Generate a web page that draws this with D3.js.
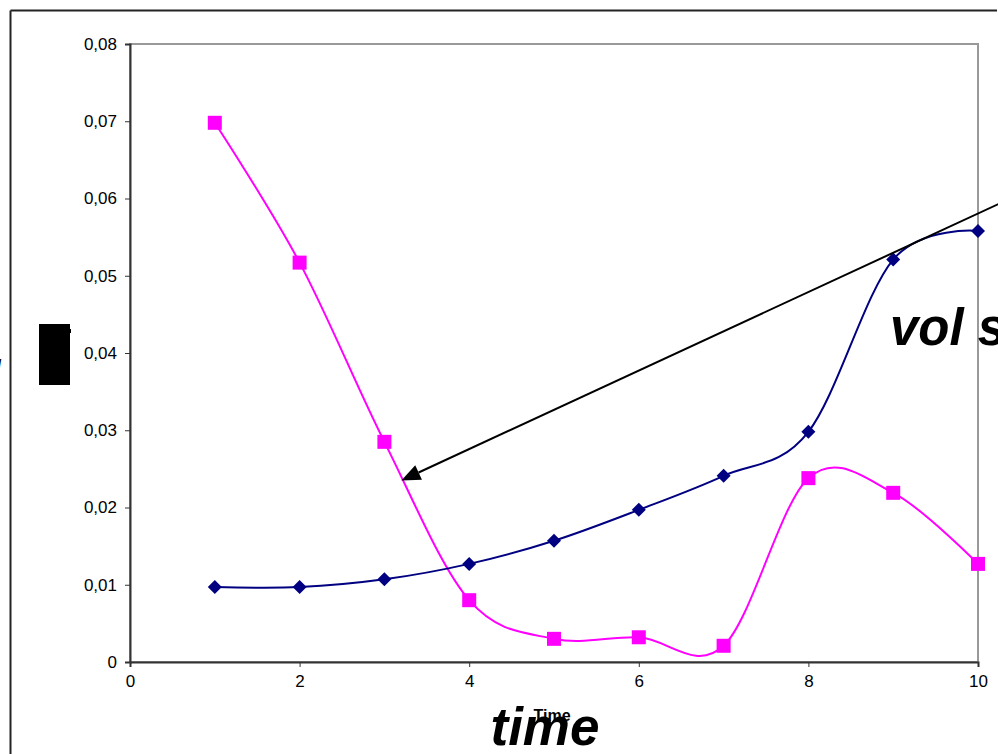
<!DOCTYPE html>
<html>
<head>
<meta charset="utf-8">
<script src="https://cdn.jsdelivr.net/npm/d3@7"></script>
<style>
  html, body { margin: 0; padding: 0; background: #fff; overflow: hidden; }
  svg { display: block; }
  .tick text { font-family: "Liberation Sans", Arial, sans-serif; font-size: 17px; fill: #000; }
</style>
</head>
<body>
<svg id="chart" width="998" height="754"></svg>
<script>
const xs = [1, 2, 3, 4, 5, 6, 7, 8, 9, 10];
const blueSeries = [0.0097, 0.0097, 0.0107, 0.0127, 0.0157, 0.0197, 0.0241, 0.0298, 0.0521, 0.0558];
const pinkSeries = [0.0698, 0.0517, 0.0285, 0.0080, 0.0030, 0.0032, 0.0021, 0.0238, 0.0219, 0.0127];
const xTicks = [0, 2, 4, 6, 8, 10];
const yTicks = [0, 0.01, 0.02, 0.03, 0.04, 0.05, 0.06, 0.07, 0.08];
const arrowFrom = [10.5, 0.0606];
const arrowTo = [3.2, 0.0235];

const svg = d3.select("#chart");
const m = { left: 130, top: 44, right: 978, bottom: 662 };
const x = d3.scaleLinear().domain([0, 10]).range([m.left, m.right]);
const y = d3.scaleLinear().domain([0, 0.08]).range([m.bottom, m.top]);
const fmt = v => d3.format(".2f")(v).replace(".", ",");
const FONT = "Liberation Sans, Arial, sans-serif";

// outer frame
svg.append("line").attr("x1", 10.5).attr("y1", 10.5).attr("x2", 997).attr("y2", 10.5)
  .attr("stroke", "#222").attr("stroke-width", 2);
svg.append("line").attr("x1", 10.5).attr("y1", 10.5).attr("x2", 10.5).attr("y2", 754)
  .attr("stroke", "#222").attr("stroke-width", 2);

// plot area border (top/right gray)
svg.append("rect").attr("x", m.left).attr("y", m.top)
  .attr("width", m.right - m.left).attr("height", m.bottom - m.top)
  .attr("fill", "none").attr("stroke", "#999").attr("stroke-width", 2);

// axes
const xAxis = svg.append("g").attr("transform", `translate(0,${m.bottom})`)
  .call(d3.axisBottom(x).tickValues(xTicks).tickSize(5).tickPadding(8).tickFormat(d3.format("d")));
const yAxis = svg.append("g").attr("transform", `translate(${m.left},0)`)
  .call(d3.axisLeft(y).tickValues(yTicks).tickSize(5).tickPadding(8).tickFormat(d => d === 0 ? "0" : fmt(d)));
[xAxis, yAxis].forEach(g => {
  g.attr("font-size", null).attr("font-family", null);
  g.select(".domain").attr("stroke", "#333").attr("stroke-width", 2);
  g.selectAll(".tick line").attr("stroke", "#333").attr("stroke-width", 1);
});

const line = d3.line().x(d => x(d[0])).y(d => y(d[1])).curve(d3.curveCatmullRom.alpha(0));
const pinkData = xs.map((v, i) => [v, pinkSeries[i]]);
const blueData = xs.map((v, i) => [v, blueSeries[i]]);

svg.append("path").datum(pinkData).attr("d", line).attr("fill", "none")
  .attr("stroke", "#FF00FF").attr("stroke-width", 2);
svg.append("path").datum(blueData).attr("d", line).attr("fill", "none")
  .attr("stroke", "#000080").attr("stroke-width", 2);

svg.append("g").selectAll("rect").data(pinkData).join("rect")
  .attr("x", d => x(d[0]) - 7).attr("y", d => y(d[1]) - 7)
  .attr("width", 14).attr("height", 14).attr("fill", "#FF00FF");
svg.append("g").selectAll("path").data(blueData).join("path")
  .attr("transform", d => `translate(${x(d[0])},${y(d[1])})`)
  .attr("d", "M0,-7L7,0L0,7L-7,0Z").attr("fill", "#000080");

// arrow
const ax1 = x(arrowFrom[0]), ay1 = y(arrowFrom[1]);
const ax2 = x(arrowTo[0]), ay2 = y(arrowTo[1]);
const ang = Math.atan2(ay2 - ay1, ax2 - ax1);
const hl = 19, hw = 8;
const bx = ax2 - hl * Math.cos(ang), by = ay2 - hl * Math.sin(ang);
svg.append("line").attr("x1", ax1).attr("y1", ay1).attr("x2", bx).attr("y2", by)
  .attr("stroke", "#000").attr("stroke-width", 2);
svg.append("path").attr("fill", "#000")
  .attr("d", `M${ax2},${ay2}L${bx + hw * Math.sin(ang)},${by - hw * Math.cos(ang)}L${bx - hw * Math.sin(ang)},${by + hw * Math.cos(ang)}Z`);

// texts
svg.append("text").attr("x", 890).attr("y", 345).text("vol s")
  .attr("font-family", FONT).attr("font-size", 51)
  .attr("font-weight", "bold").attr("font-style", "italic").attr("fill", "#000");
svg.append("text").attr("x", 545).attr("y", 745).attr("text-anchor", "middle").text("time")
  .attr("font-family", FONT).attr("font-size", 53)
  .attr("font-weight", "bold").attr("font-style", "italic").attr("fill", "#000");
svg.append("text").attr("x", 552).attr("y", 721).attr("text-anchor", "middle").text("Time")
  .attr("font-family", FONT).attr("font-size", 16)
  .attr("font-weight", "bold").attr("fill", "#000");

// black box on the left
svg.append("rect").attr("x", 39).attr("y", 324).attr("width", 31).attr("height", 61).attr("fill", "#000");
svg.append("rect").attr("x", 68).attr("y", 329).attr("width", 3).attr("height", 4).attr("fill", "#000");
svg.append("text").attr("x", -2).attr("y", 368).text("/")
  .attr("font-family", FONT).attr("font-size", 12)
  .attr("font-weight", "bold").attr("fill", "#000");
</script>
</body>
</html>
